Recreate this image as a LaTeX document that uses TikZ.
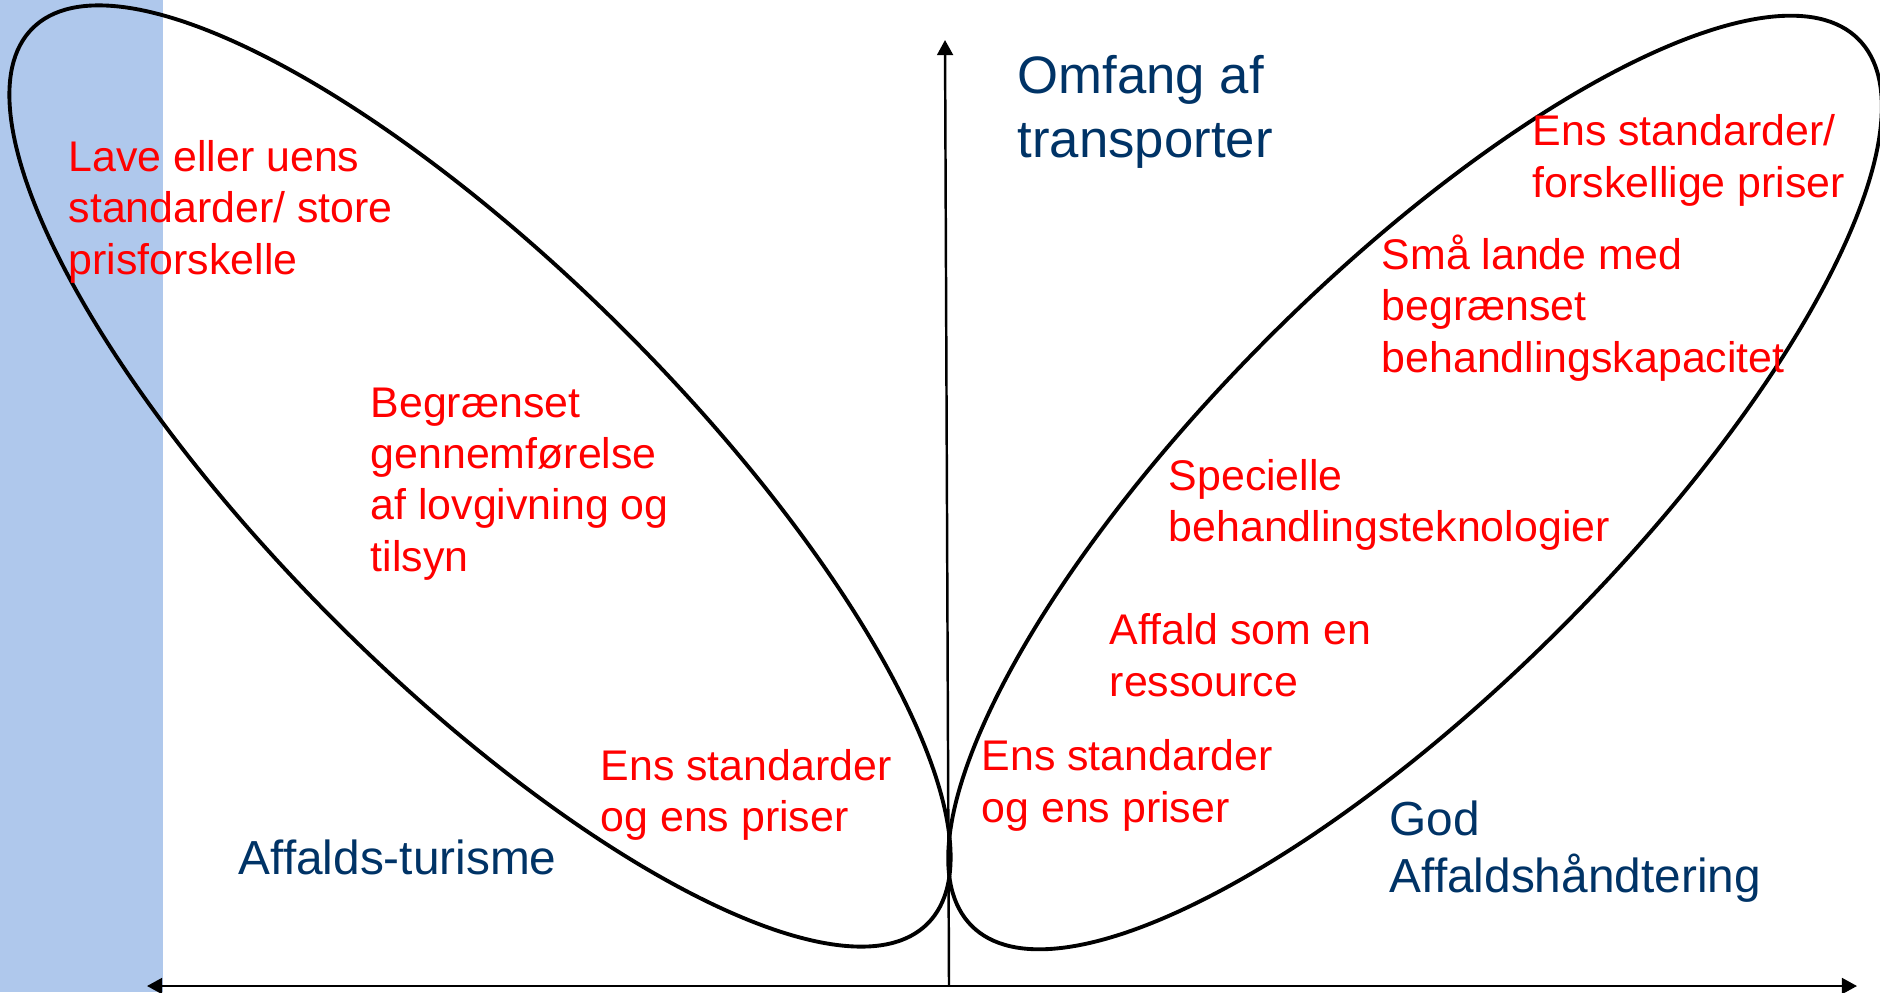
\documentclass[tikz,border=0pt]{standalone}
\usepackage{fontspec}
\setmainfont{Liberation Sans}
\usetikzlibrary{arrows.meta}
\definecolor{stripblue}{RGB}{175,200,236}
\definecolor{labelblue}{RGB}{0,51,102}
\tikzset{
  factor/.style={text=red, align=left, anchor=base west, inner sep=0pt,
    font=\fontsize{12.2}{14.6}\selectfont},
  region/.style={text=labelblue, align=left, anchor=base west, inner sep=0pt,
    font=\fontsize{13.6}{16.3}\selectfont},
  axis/.style={line width=0.7pt, >={Triangle[length=4.3pt,width=4.5pt]}},
  lobe/.style={line width=1.1pt}
}
\begin{document}
\begin{tikzpicture}
  \useasboundingbox (0,0) rectangle (18.8,9.92);
  \fill[stripblue] (0,0) rectangle (1.63,9.92);
  % Define coordinates
  \path
    (9.49,0.06) coordinate (O)
    (9.45,9.52) coordinate (Ytop)
    (1.47,0.06) coordinate (Xleft)
    (18.57,0.06) coordinate (Xright)
    (4.80,5.16) coordinate (CL)
    (14.15,5.095) coordinate (CR)
  ;
  % Draw lobes
  \draw[lobe, rotate around={-45:(CL)}] (CL) ellipse (6.33 and 2.05);
  \draw[lobe, rotate around={45:(CR)}] (CR) ellipse (6.27 and 2.06);
  % Draw axes
  \draw[axis, ->] (O) -- (Ytop);
  \draw[axis, <->] (Xleft) -- (Xright);
  % Labels (anchored at the baseline of the last line)
  \node[factor] (lave) at (0.68,7.18) {Lave eller uens\\standarder/ store\\prisforskelle};
  \node[factor] (begr) at (3.70,4.207) {Begrænset\\gennemførelse\\af lovgivning og\\tilsyn};
  \node[factor] (ensL) at (6.00,1.605) {Ens standarder\\og ens priser};
  \node[region] (turisme) at (2.38,1.18) {Affalds-turisme};
  \node[region, font=\fontsize{15}{18}\selectfont] (omfang) at (10.17,8.348) {Omfang af\\transporter};
  \node[factor] (ensTop) at (15.32,7.947) {Ens standarder/\\forskellige priser};
  \node[factor] (smaa) at (13.81,6.197) {Små lande med\\begrænset\\behandlingskapacitet};
  \node[factor] (spec) at (11.68,4.506) {Specielle\\behandlingsteknologier};
  \node[factor] (ressource) at (11.09,2.959) {Affald som en\\ressource};
  \node[factor] (ensR) at (9.81,1.70) {Ens standarder\\og ens priser};
  \node[region] (god) at (13.89,0.991) {God\\Affaldshåndtering};
\end{tikzpicture}
\end{document}
